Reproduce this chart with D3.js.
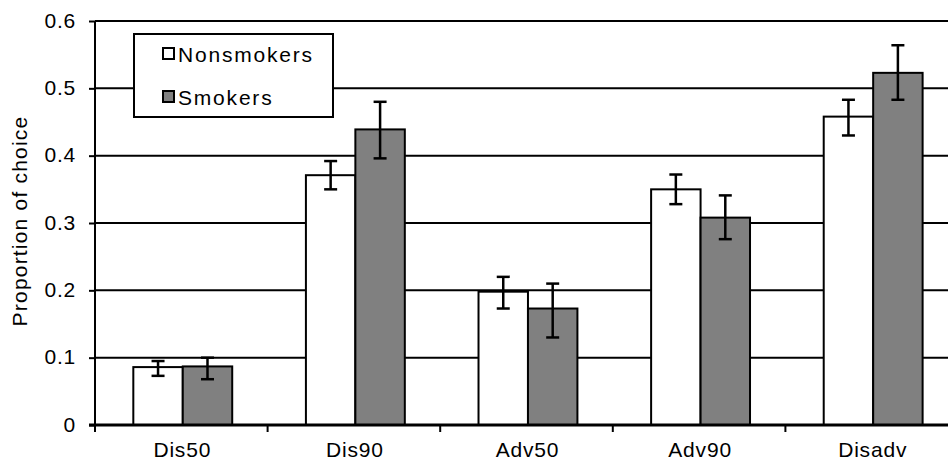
<!DOCTYPE html>
<html>
<head>
<meta charset="utf-8">
<script src="https://cdn.jsdelivr.net/npm/d3@7"></script>
<style>
  html, body { margin: 0; padding: 0; background: #fff; }
  svg { display: block; font-family: "Liberation Sans", Arial, sans-serif; }
</style>
</head>
<body>
<svg id="chart" width="948" height="465"></svg>
<script>
// Choice proportions by condition, with error-bar bounds
const categories = ["Dis50", "Dis90", "Adv50", "Adv90", "Disadv"];
const seriesNames = ["Nonsmokers", "Smokers"];
const nonsmokers = [0.086, 0.371, 0.198, 0.350, 0.458];
const nonsmokersLow = [0.073, 0.350, 0.173, 0.328, 0.430];
const nonsmokersHigh = [0.095, 0.392, 0.220, 0.372, 0.483];
const smokers = [0.087, 0.439, 0.173, 0.308, 0.523];
const smokersLow = [0.068, 0.396, 0.130, 0.276, 0.483];
const smokersHigh = [0.100, 0.480, 0.210, 0.341, 0.564];
const yTicks = [0, 0.1, 0.2, 0.3, 0.4, 0.5, 0.6];
const yTickLabels = ["0", "0.1", "0.2", "0.3", "0.4", "0.5", "0.6"];

const svg = d3.select("#chart");
const plotLeft = 95, plotRight = 958, plotTop = 21, plotBottom = 425;

const y = d3.scaleLinear().domain([0, 0.6]).range([plotBottom, plotTop]);
const x0 = d3.scaleBand().domain(categories).range([plotLeft, plotRight]).padding(0);
const bw = x0.bandwidth();
const x1 = d3.scaleBand().domain(seriesNames).range([bw * 0.222, bw * 0.795]).padding(0);
const fills = { Nonsmokers: "#ffffff", Smokers: "#808080" };

const rows = categories.map((c, i) => ({
  cat: c,
  vals: [
    { s: "Nonsmokers", v: nonsmokers[i], lo: nonsmokersLow[i], hi: nonsmokersHigh[i] },
    { s: "Smokers", v: smokers[i], lo: smokersLow[i], hi: smokersHigh[i] }
  ]
}));

// horizontal gridlines
svg.append("g").selectAll("line").data(yTicks.filter(d => d > 0)).join("line")
  .attr("x1", plotLeft).attr("x2", 948)
  .attr("y1", d => y(d)).attr("y2", d => y(d))
  .attr("stroke", "#000").attr("stroke-width", 2);

// bars
const groups = svg.append("g").selectAll("g").data(rows).join("g")
  .attr("transform", d => `translate(${x0(d.cat)},0)`);
groups.selectAll("rect").data(d => d.vals).join("rect")
  .attr("x", d => x1(d.s))
  .attr("y", d => y(d.v))
  .attr("width", x1.bandwidth())
  .attr("height", d => y(0) - y(d.v))
  .attr("fill", d => fills[d.s])
  .attr("stroke", "#000").attr("stroke-width", 2);

// error bars
const eb = groups.selectAll("g.err").data(d => d.vals).join("g").attr("class", "err")
  .attr("transform", d => `translate(${x1(d.s) + x1.bandwidth() / 2},0)`);
eb.append("line").attr("x1", 0).attr("x2", 0)
  .attr("y1", d => y(d.lo)).attr("y2", d => y(d.hi))
  .attr("stroke", "#000").attr("stroke-width", 2.5);
eb.append("line").attr("x1", -6.5).attr("x2", 6.5)
  .attr("y1", d => y(d.hi)).attr("y2", d => y(d.hi))
  .attr("stroke", "#000").attr("stroke-width", 2.5);
eb.append("line").attr("x1", -6.5).attr("x2", 6.5)
  .attr("y1", d => y(d.lo)).attr("y2", d => y(d.lo))
  .attr("stroke", "#000").attr("stroke-width", 2.5);

// y axis
const yAxis = d3.axisLeft(y).tickValues(yTicks)
  .tickFormat((d, i) => yTickLabels[i]).tickSize(6).tickPadding(13);
const ya = svg.append("g").attr("transform", `translate(${plotLeft},0)`).call(yAxis);
ya.select(".domain").attr("stroke", "#000").attr("stroke-width", 2)
  .attr("d", `M0,${plotTop}V${plotBottom}`);
ya.selectAll(".tick line").attr("stroke", "#000").attr("stroke-width", 2);
ya.selectAll(".tick text").attr("font-size", 21).attr("fill", "#000")
  .attr("font-family", "Liberation Sans, Arial, sans-serif")
  .attr("letter-spacing", 0.8).attr("dy", "0.3em");

// x axis: ticks between categories
const boundaries = categories.map(c => x0(c)).concat([plotRight]);
svg.append("line").attr("x1", plotLeft - 6).attr("x2", 948)
  .attr("y1", plotBottom).attr("y2", plotBottom)
  .attr("stroke", "#000").attr("stroke-width", 3);
svg.append("g").selectAll("line").data(boundaries).join("line")
  .attr("x1", d => d).attr("x2", d => d)
  .attr("y1", plotBottom).attr("y2", plotBottom + 7)
  .attr("stroke", "#000").attr("stroke-width", 2);
svg.append("g").selectAll("text").data(categories).join("text")
  .attr("x", d => x0(d) + bw / 2 + 1)
  .attr("y", 457)
  .attr("text-anchor", "middle")
  .attr("font-size", 21).attr("letter-spacing", 0.8)
  .text(d => d);

// y axis title
svg.append("text")
  .attr("transform", "translate(27,221) rotate(-90)")
  .attr("text-anchor", "middle")
  .attr("font-size", 21).attr("letter-spacing", 1.2)
  .text("Proportion of choice");

// legend
const lg = svg.append("g");
lg.append("rect").attr("x", 134).attr("y", 34).attr("width", 199).attr("height", 83)
  .attr("fill", "#fff").attr("stroke", "#000").attr("stroke-width", 2);
const items = lg.selectAll("g").data(seriesNames).join("g")
  .attr("transform", (d, i) => `translate(163,${48 + i * 43})`);
items.append("rect").attr("x", 0).attr("y", 0).attr("width", 11).attr("height", 11)
  .attr("fill", d => fills[d]).attr("stroke", "#000").attr("stroke-width", 2);
items.append("text").attr("x", 15).attr("y", 13.5)
  .attr("font-size", 21).attr("letter-spacing", 1.8)
  .text(d => d);
</script>
</body>
</html>
